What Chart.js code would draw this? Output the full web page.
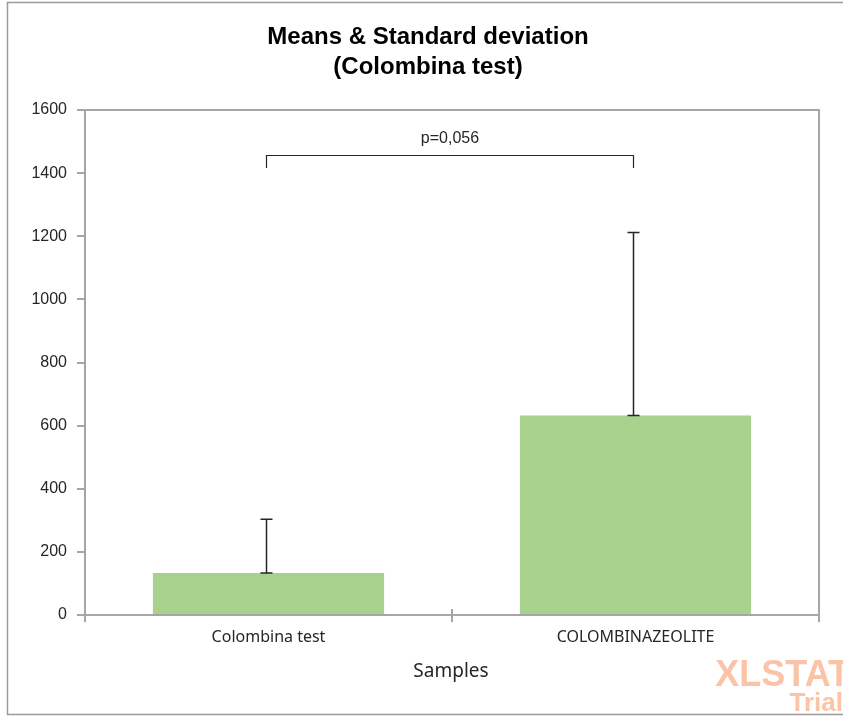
<!DOCTYPE html>
<html>
<head>
<meta charset="utf-8">
<style>
  html, body { margin: 0; padding: 0; background: #fff; }
  #wrap { position: relative; width: 843px; height: 716px; }
</style>
</head>
<body>
<div id="wrap"><canvas id="chart" width="843" height="716"></canvas></div>
<script src="https://cdn.jsdelivr.net/npm/chart.js@4.4.1/dist/chart.umd.min.js"></script>
<script>
// Data ------------------------------------------------------------------
var samples = ["Colombina test", "COLOMBINAZEOLITE"];
var means = [133, 632];
var stdDevs = [170, 580];
var yTicks = [0, 200, 400, 600, 800, 1000, 1200, 1400, 1600];
var pValueLabel = "p=0,056";

// Theme -----------------------------------------------------------------
var GREEN = "#a9d18e", AXIS = "#a6a6a6", INK = "#262626";
var FONT = "'Liberation Sans', Arial, sans-serif";
var LABEL_FONT = "'Noto Sans', 'Liberation Sans', sans-serif";
var BRACKET_VALUE = 1458, BRACKET_DROP = 42;

var extras = {
  id: "extras",
  beforeDraw: function (chart) {
    var c = chart.ctx;
    c.save();
    c.fillStyle = "#fff";
    c.fillRect(0, 0, chart.width, chart.height);
    // outer frame
    c.strokeStyle = "#9a9a9a";
    c.lineWidth = 1.5;
    c.beginPath();
    c.moveTo(843, 2.5); c.lineTo(7.5, 2.5); c.lineTo(7.5, 714.5); c.lineTo(843, 714.5);
    c.stroke();
    c.restore();
  },
  afterDraw: function (chart) {
    var c = chart.ctx, a = chart.chartArea, y = chart.scales.y, x = chart.scales.x;
    var meta = chart.getDatasetMeta(0);
    c.save();
    // top and right of plot frame
    c.strokeStyle = AXIS; c.lineWidth = 2;
    c.beginPath();
    c.moveTo(a.left, a.top); c.lineTo(a.right, a.top); c.lineTo(a.right, a.bottom + 7);
    c.stroke();
    // middle x tick crossing the axis
    var mid = (x.getPixelForValue(0) + x.getPixelForValue(1)) / 2;
    c.beginPath(); c.moveTo(mid, a.bottom - 6); c.lineTo(mid, a.bottom + 7); c.stroke();

    // error bars (upper only)
    c.strokeStyle = INK; c.lineWidth = 1.5;
    meta.data.forEach(function (bar, i) {
      var yTop = y.getPixelForValue(means[i] + stdDevs[i]);
      var yMean = y.getPixelForValue(means[i]);
      var bx = Math.round(bar.x) - 2.5;
      c.beginPath();
      c.moveTo(bx, yMean); c.lineTo(bx, yTop);
      c.moveTo(bx - 6, yTop); c.lineTo(bx + 6, yTop);
      c.moveTo(bx - 6, yMean); c.lineTo(bx + 6, yMean);
      c.stroke();
    });

    // significance bracket
    var x1 = Math.round(meta.data[0].x) - 2.5, x2 = Math.round(meta.data[1].x) - 2.5;
    var yb = Math.round(y.getPixelForValue(BRACKET_VALUE)) + 0.5;
    var yd = y.getPixelForValue(BRACKET_VALUE - BRACKET_DROP);
    c.lineWidth = 1.2;
    c.beginPath();
    c.moveTo(x1, yd); c.lineTo(x1, yb); c.lineTo(x2, yb); c.lineTo(x2, yd);
    c.stroke();
    c.fillStyle = INK; c.font = "16px " + FONT;
    c.textAlign = "center"; c.textBaseline = "middle";
    c.fillText(pValueLabel, (x1 + x2) / 2, yb - 17);

    // titles
    c.font = "bold 24px " + FONT;
    c.fillStyle = "#000";
    c.fillText("Means & Standard deviation", 428, 37);
    c.fillText("(Colombina test)", 428, 67);
    c.font = "19px " + LABEL_FONT;
    c.fillStyle = INK;
    c.fillText("Samples", 451, 672);

    // watermark
    c.fillStyle = "rgba(250, 170, 130, 0.7)";
    c.textAlign = "right";
    c.font = "bold 36px " + FONT;
    c.fillText("XLSTAT", 850, 676);
    c.font = "bold 26px " + FONT;
    c.fillText("Trial", 843, 704);
    c.restore();
  }
};

new Chart(document.getElementById("chart"), {
  type: "bar",
  data: {
    labels: samples,
    datasets: [{
      label: "Mean",
      data: means,
      backgroundColor: GREEN,
      borderWidth: 0,
      categoryPercentage: 1,
      barPercentage: 0.63
    }]
  },
  options: {
    responsive: false,
    animation: false,
    layout: { padding: { left: 10, right: 24, top: 110, bottom: 0 } },
    plugins: { legend: { display: false }, tooltip: { enabled: false }, title: { display: false } },
    scales: {
      x: {
        afterFit: function (s) { s.height = 101; },
        grid: { drawOnChartArea: false, tickLength: 7, color: AXIS, lineWidth: 2, offset: true },
        border: { color: AXIS, width: 2 },
        ticks: { color: INK, font: { size: 16, family: LABEL_FONT }, padding: 6 }
      },
      y: {
        min: 0, max: 1600,
        afterFit: function (s) { s.width = 75; },
        afterBuildTicks: function (s) { s.ticks = yTicks.map(function (v) { return { value: v }; }); },
        grid: { drawOnChartArea: false, tickLength: 8, color: AXIS, lineWidth: 2 },
        border: { color: AXIS, width: 2 },
        ticks: {
          color: INK, font: { size: 16, family: FONT }, padding: 10,
          callback: function (v) { return String(v); }
        }
      }
    }
  },
  plugins: [extras]
});
</script>
</body>
</html>
